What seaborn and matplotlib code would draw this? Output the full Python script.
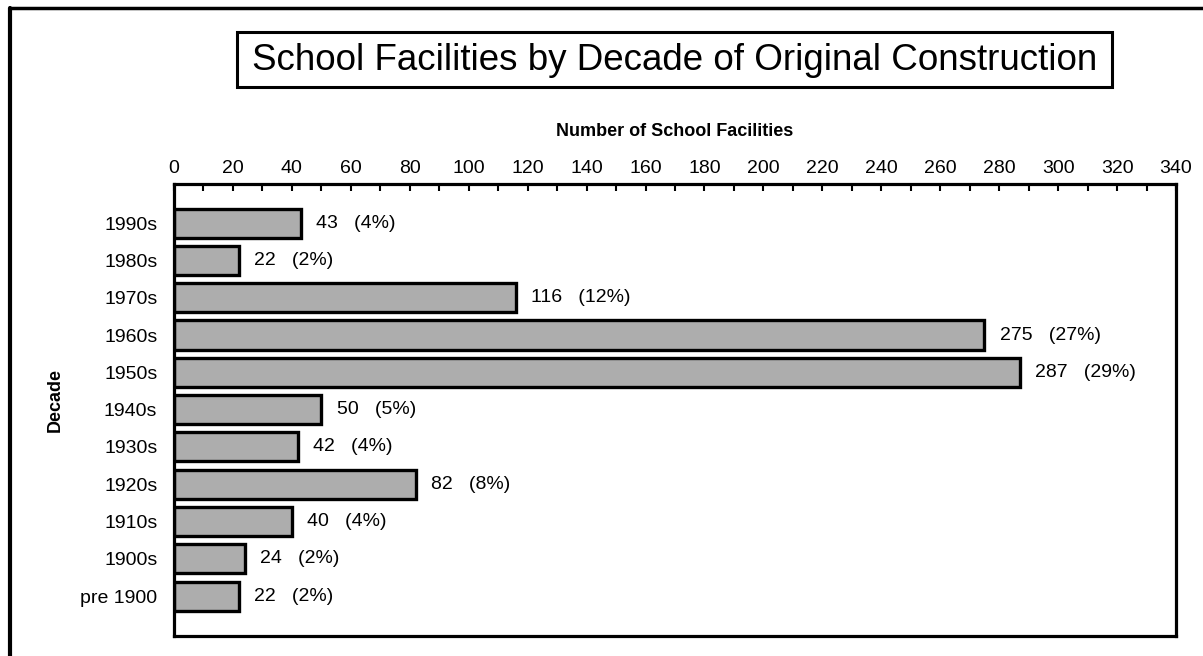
import matplotlib
matplotlib.use("Agg")
import matplotlib.pyplot as plt
import matplotlib.font_manager as fm
from matplotlib.patches import Rectangle
from matplotlib.lines import Line2D
from matplotlib.ticker import MultipleLocator
import numpy as np
import pandas as pd
import seaborn as sns

# data
decades = ["1990s", "1980s", "1970s", "1960s", "1950s", "1940s",
           "1930s", "1920s", "1910s", "1900s", "pre 1900"]
facilities = [43, 22, 116, 275, 287, 50, 42, 82, 40, 24, 22]

title = "School Facilities by Decade of Original Construction"
x_label = "Number of School Facilities"
y_label = "Decade"

df = pd.DataFrame({"Decade": decades, "Facilities": facilities})
total = df["Facilities"].sum()
df["Pct"] = (df["Facilities"] / total * 100).round().astype(int)

sns.set_style("white")
names = {f.name for f in fm.fontManager.ttflist}
narrow = "DejaVu Sans Condensed" if "DejaVu Sans Condensed" in names else "Liberation Sans"
plt.rcParams["font.family"] = ["Liberation Sans", "DejaVu Sans"]
for k in ["text.color", "axes.labelcolor", "xtick.color", "ytick.color"]:
    plt.rcParams[k] = "black"

W, H = 1203, 656
fig = plt.figure(figsize=(W / 100, H / 100), dpi=100)
ax = fig.add_axes([174 / W, 1 - 636 / H, (1176 - 174) / W, (636 - 184) / H])

sns.barplot(data=df, x="Facilities", y="Decade", orient="h", color="#adadad",
            saturation=1, edgecolor="black", linewidth=2.4, width=0.78, ax=ax)

labels = [f"{v}   ({p}%)" for v, p in zip(df["Facilities"], df["Pct"])]
ax.bar_label(ax.containers[0], labels=labels, padding=11, fontsize=14)

ax.set_xlim(0, 340)
ax.set_ylim(len(decades) - 1 + 1.07, -1.05)
ax.xaxis.set_major_locator(MultipleLocator(20))
ax.xaxis.set_minor_locator(MultipleLocator(10))
ax.xaxis.tick_top()
ax.tick_params(axis="x", which="both", direction="in", length=5, width=1.5,
               color="black", labelsize=14, pad=5, top=True, bottom=False)
ax.tick_params(axis="y", length=0, labelsize=14, pad=12)
ax.set_xlabel("")
ax.set_ylabel("")
for s in ax.spines.values():
    s.set_visible(True)
    s.set_color("black")
    s.set_linewidth(2.3)

fig.text(675 / W, 1 - 132 / H, x_label, ha="center", va="center",
         fontsize=13, fontweight="bold", family=[narrow, "DejaVu Sans"])
fig.text(55 / W, 1 - 400 / H, y_label, ha="center", va="center", rotation=90,
         fontsize=13, fontweight="bold", family=[narrow, "DejaVu Sans"])

# title in its own box
fig.add_artist(Rectangle((237 / W, 1 - 87 / H), (1112 - 237) / W, 55 / H,
                         transform=fig.transFigure, fill=False,
                         edgecolor="black", linewidth=2.2))
fig.text(675 / W, 1 - 60 / H, title, ha="center", va="center", fontsize=26.5)

# outer border (left and top visible)
fig.add_artist(Line2D([10 / W, 10 / W], [0, 1 - 8 / H], transform=fig.transFigure,
                      color="black", linewidth=3))
fig.add_artist(Line2D([10 / W, 1], [1 - 8 / H, 1 - 8 / H], transform=fig.transFigure,
                      color="black", linewidth=2.5))

fig.savefig("out.png", dpi=100, facecolor="white")
